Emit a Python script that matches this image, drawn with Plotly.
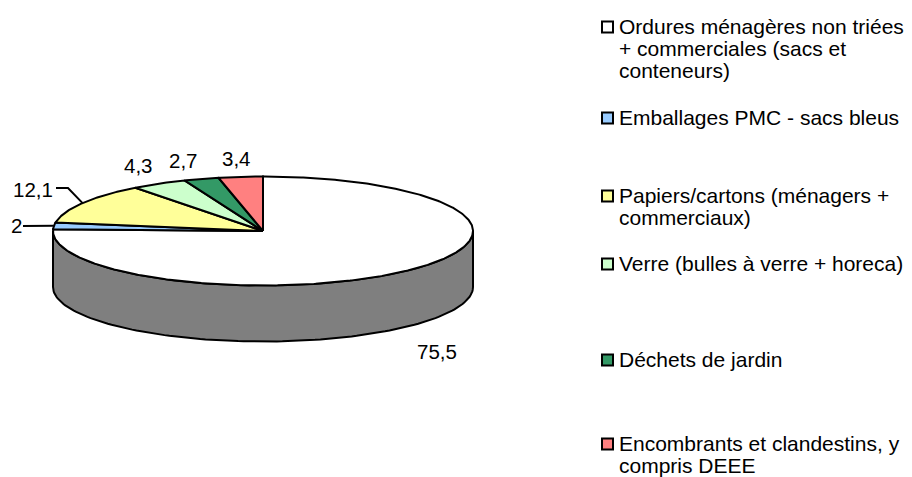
import numpy as np
import plotly.graph_objects as go

# ---------------- data ----------------
categories = [
    "Ordures ménagères non triées + commerciales (sacs et conteneurs)",
    "Emballages PMC - sacs bleus",
    "Papiers/cartons (ménagers + commerciaux)",
    "Verre (bulles à verre + horeca)",
    "Déchets de jardin",
    "Encombrants et clandestins, y compris DEEE",
]
values = [75.5, 2, 12.1, 4.3, 2.7, 3.4]
value_labels = ["75,5", "2", "12,1", "4,3", "2,7", "3,4"]
legend_lines = [
    ["Ordures ménagères non triées", "+ commerciales (sacs et", "conteneurs)"],
    ["Emballages PMC - sacs bleus"],
    ["Papiers/cartons (ménagers +", "commerciaux)"],
    ["Verre (bulles à verre + horeca)"],
    ["Déchets de jardin"],
    ["Encombrants et clandestins, y", "compris DEEE"],
]

# ---------------- style / layout ----------------
colors = ["#FFFFFF", "#99CCFF", "#FFFF99", "#CCFFCC", "#339966", "#FF8080"]
FONT = "Liberation Sans, Arial, sans-serif"
W, H = 912, 477
CX, CY, RX, RY, DEPTH = 263, 231, 210, 54.5, 56
LW = 2

label_pos = [(437, 351), (16, 225), (33, 189), (138, 165), (183, 160), (236, 158)]
leader_start = {1: [(23, 226)], 2: [(56, 188), (68, 188)]}
legend_first_y = [26, 117, 195, 263, 359, 443]
LEG_LINE = 22
LEG_SQ_X = 607.5
LEG_TXT_X = 617


def darken(hexc, f=0.5):
    hexc = hexc.lstrip("#")
    r, g, b = (int(hexc[i:i + 2], 16) for i in (0, 2, 4))
    return "#%02X%02X%02X" % (int(r * f), int(g * f), int(b * f))


def pt(theta, dy=0.0):
    t = np.deg2rad(theta)
    return CX + RX * np.sin(t), CY - RY * np.cos(t) + dy


fig = go.Figure()

total = float(sum(values))
bounds = np.concatenate([[0.0], np.cumsum(values) / total * 360.0])

# side walls (front half only: 90..270 deg clockwise from top)
for i in range(len(values)):
    a = max(bounds[i], 90.0)
    b = min(bounds[i + 1], 270.0)
    if a >= b:
        continue
    ts = np.linspace(a, b, 120)
    xt, yt = pt(ts)
    xb, yb = pt(ts[::-1], DEPTH)
    xs = np.concatenate([xt, xb, xt[:1]])
    ys = np.concatenate([yt, yb, yt[:1]])
    fig.add_trace(go.Scatter(x=xs, y=ys, mode="lines", fill="toself",
                             fillcolor=darken(colors[i]),
                             line=dict(color="black", width=LW),
                             hoverinfo="skip", showlegend=False))

# top faces
for i in range(len(values)):
    n = max(8, int((bounds[i + 1] - bounds[i]) * 2))
    ts = np.linspace(bounds[i], bounds[i + 1], n)
    xa, ya = pt(ts)
    xs = np.concatenate([[CX], xa, [CX]])
    ys = np.concatenate([[CY], ya, [CY]])
    fig.add_trace(go.Scatter(x=xs, y=ys, mode="lines", fill="toself",
                             fillcolor=colors[i],
                             line=dict(color="black", width=LW),
                             name=categories[i],
                             hoverinfo="name", showlegend=False))

# leader lines
for i, pts in leader_start.items():
    mid = (bounds[i] + bounds[i + 1]) / 2
    ex, ey = pt(mid)
    xs = [p[0] for p in pts] + [ex]
    ys = [p[1] for p in pts] + [ey]
    fig.add_trace(go.Scatter(x=xs, y=ys, mode="lines",
                             line=dict(color="black", width=LW),
                             hoverinfo="skip", showlegend=False))

annotations = []
for i, lab in enumerate(value_labels):
    x, y = label_pos[i]
    annotations.append(dict(x=x, y=y, text=lab, showarrow=False,
                            xanchor="center", yanchor="middle",
                            font=dict(family=FONT, size=20.5, color="black")))

# legend
fig.add_trace(go.Scatter(x=[LEG_SQ_X] * len(colors), y=[y + 1 for y in legend_first_y],
                         mode="markers",
                         marker=dict(symbol="square", size=11, color=colors,
                                     line=dict(color="black", width=2)),
                         hoverinfo="skip", showlegend=False))
for i, lines in enumerate(legend_lines):
    for k, line in enumerate(lines):
        annotations.append(dict(x=LEG_TXT_X, y=legend_first_y[i] + k * LEG_LINE,
                                text=line, showarrow=False,
                                xanchor="left", yanchor="middle",
                                font=dict(family=FONT, size=21, color="black")))

fig.update_layout(
    width=W, height=H, autosize=False,
    margin=dict(l=0, r=0, t=0, b=0),
    paper_bgcolor="white", plot_bgcolor="white",
    xaxis=dict(range=[0, W], visible=False, fixedrange=True),
    yaxis=dict(range=[H, 0], visible=False, fixedrange=True),
    annotations=annotations,
    showlegend=False,
)

fig.write_html("out.html",
               config={"displayModeBar": False},
               post_script="document.body.style.margin='0';document.body.style.overflow='hidden';")
